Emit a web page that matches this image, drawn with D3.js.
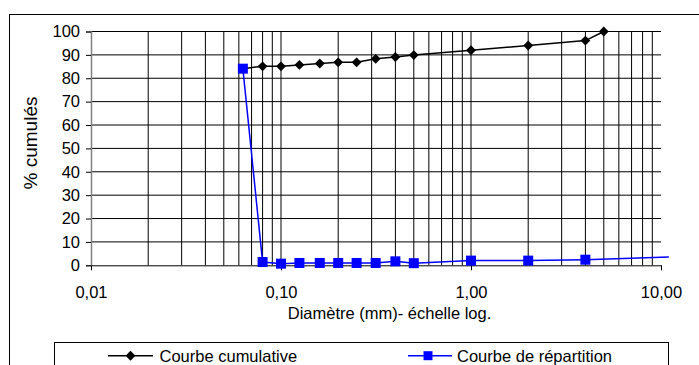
<!DOCTYPE html>
<html><head><meta charset="utf-8">
<script src="https://cdn.jsdelivr.net/npm/d3@7"></script>
<style>
html,body{margin:0;padding:0;background:#fff;}
svg text{font-family:"Liberation Sans",Arial,sans-serif;fill:#000;}
</style></head>
<body><svg id="c" width="699" height="365"></svg>
<script>
// Data
const cumulX = [0.063, 0.08, 0.1, 0.125, 0.16, 0.2, 0.25, 0.315, 0.4, 0.5, 1, 2, 4, 5];
const cumulY = [84.1, 85.1, 85.1, 85.7, 86.3, 86.8, 86.8, 88.3, 89.1, 89.9, 92.0, 94.0, 96.1, 100];
const repX = [0.063, 0.08, 0.1, 0.125, 0.16, 0.2, 0.25, 0.315, 0.4, 0.5, 1, 2, 4];
const repY = [84.1, 1.4, 0.7, 1.0, 1.0, 1.0, 1.0, 1.0, 1.7, 0.9, 2.0, 2.0, 2.4];
const repTailX = [4, 11];
const repTailY = [2.4, 3.5];
const yTicks = [0, 10, 20, 30, 40, 50, 60, 70, 80, 90, 100];
const xTicks = [0.01, 0.1, 1, 10];
const xTickLabels = ["0,01", "0,10", "1,00", "10,00"];
const legendLabels = ["Courbe cumulative", "Courbe de répartition"];
const xTitle = "Diamètre (mm)- échelle log.";
const yTitle = "% cumulés";

const svg = d3.select("#c");
const L = 91, R = 661, T = 31.5, B = 265.3;
const x = d3.scaleLog().domain([0.01, 10]).range([L, R]);
const y = d3.scaleLinear().domain([0, 100]).range([B, T]);

// outer chart border
svg.append("rect").attr("x", 9.5).attr("y", 14.5).attr("width", 760).attr("height", 400)
  .attr("fill", "none").attr("stroke", "#000").attr("stroke-width", 1);

// vertical gridlines (log minor)
const vgrid = [];
for (let e = -2; e <= 0; e++) for (let m = 1; m <= 9; m++) {
  const v = m * Math.pow(10, e);
  if (v > 0.0101 && v < 9.99) vgrid.push(v);
}
svg.append("g").selectAll("line").data(vgrid).join("line")
  .attr("x1", d => x(d)).attr("x2", d => x(d)).attr("y1", T).attr("y2", B)
  .attr("stroke", "#000").attr("stroke-width", 1);
// horizontal gridlines
svg.append("g").selectAll("line").data(yTicks.filter(d => d > 0)).join("line")
  .attr("x1", L).attr("x2", R).attr("y1", d => y(d)).attr("y2", d => y(d))
  .attr("stroke", "#000").attr("stroke-width", 1);

// y axis
const yAxis = d3.axisLeft(y).tickValues(yTicks).tickSize(5).tickPadding(6).tickFormat(d3.format("d"));
const gy = svg.append("g").attr("transform", `translate(${L},0)`).call(yAxis);
gy.select(".domain").attr("stroke", "#808080").attr("stroke-width", 1.5);
gy.selectAll(".tick line").attr("stroke", "#000");
gy.selectAll("text").attr("font-size", 16.5).attr("font-family", '"Liberation Sans",Arial,sans-serif').attr("fill", "#000");

// x axis
const xAxis = d3.axisBottom(x).tickValues(xTicks).tickSize(5).tickSizeOuter(0)
  .tickFormat((d, i) => xTickLabels[i]).tickPadding(16);
const gx = svg.append("g").attr("transform", `translate(0,${B})`).call(xAxis);
gx.select(".domain").attr("stroke", "#000").attr("stroke-width", 1);
gx.selectAll(".tick line").attr("stroke", "#000");
gx.selectAll("text").attr("font-size", 16.5).attr("font-family", '"Liberation Sans",Arial,sans-serif').attr("fill", "#000");

// titles
svg.append("text").attr("x", 389.5).attr("y", 319).attr("text-anchor", "middle")
  .attr("font-size", 16.5).text(xTitle);
svg.append("text").attr("transform", "translate(37,143) rotate(-90)").attr("text-anchor", "middle")
  .attr("font-size", 19).text(yTitle);

const line = d3.line().x(d => x(d[0])).y(d => y(d[1]));
const cumul = cumulX.map((v, i) => [v, cumulY[i]]);
const rep = repX.map((v, i) => [v, repY[i]]);
const repTail = repTailX.map((v, i) => [v, repTailY[i]]);

const diamond = d3.symbol().type(d3.symbolDiamond2).size(62);
// cumulative series
svg.append("path").datum(cumul).attr("d", line).attr("fill", "none").attr("stroke", "#000").attr("stroke-width", 1.5);
svg.append("g").selectAll("path").data(cumul.slice(1)).join("path")
  .attr("transform", d => `translate(${x(d[0])},${y(d[1])})`)
  .attr("d", diamond).attr("fill", "#000");

// repartition series
svg.append("path").datum(rep).attr("d", line).attr("fill", "none").attr("stroke", "#0000ff").attr("stroke-width", 1.5);
svg.append("path").datum(repTail).attr("d", line).attr("fill", "none").attr("stroke", "#0000ff").attr("stroke-width", 1.5);
svg.append("g").selectAll("rect").data(rep).join("rect")
  .attr("x", d => x(d[0]) - 5).attr("y", d => y(d[1]) - 5).attr("width", 10).attr("height", 10)
  .attr("fill", "#0000ff");

// legend
const lg = svg.append("g");
lg.append("rect").attr("x", 54.5).attr("y", 342.5).attr("width", 614).attr("height", 40)
  .attr("fill", "#fff").attr("stroke", "#000").attr("stroke-width", 1);
const ly = 355.7;
lg.append("line").attr("x1", 108).attr("x2", 153).attr("y1", ly).attr("y2", ly).attr("stroke", "#000").attr("stroke-width", 1.5);
lg.append("path").attr("transform", `translate(130.5,${ly})`).attr("d", diamond).attr("fill", "#000");
lg.append("text").attr("x", 159.5).attr("y", 362).attr("font-size", 16.5).text(legendLabels[0]);
lg.append("line").attr("x1", 408).attr("x2", 452).attr("y1", ly).attr("y2", ly).attr("stroke", "#0000ff").attr("stroke-width", 1.5);
lg.append("rect").attr("x", 428 - 4.5).attr("y", ly - 4.5).attr("width", 9).attr("height", 9).attr("fill", "#0000ff");
lg.append("text").attr("x", 457).attr("y", 362).attr("font-size", 16.5).text(legendLabels[1]);
</script></body></html>
